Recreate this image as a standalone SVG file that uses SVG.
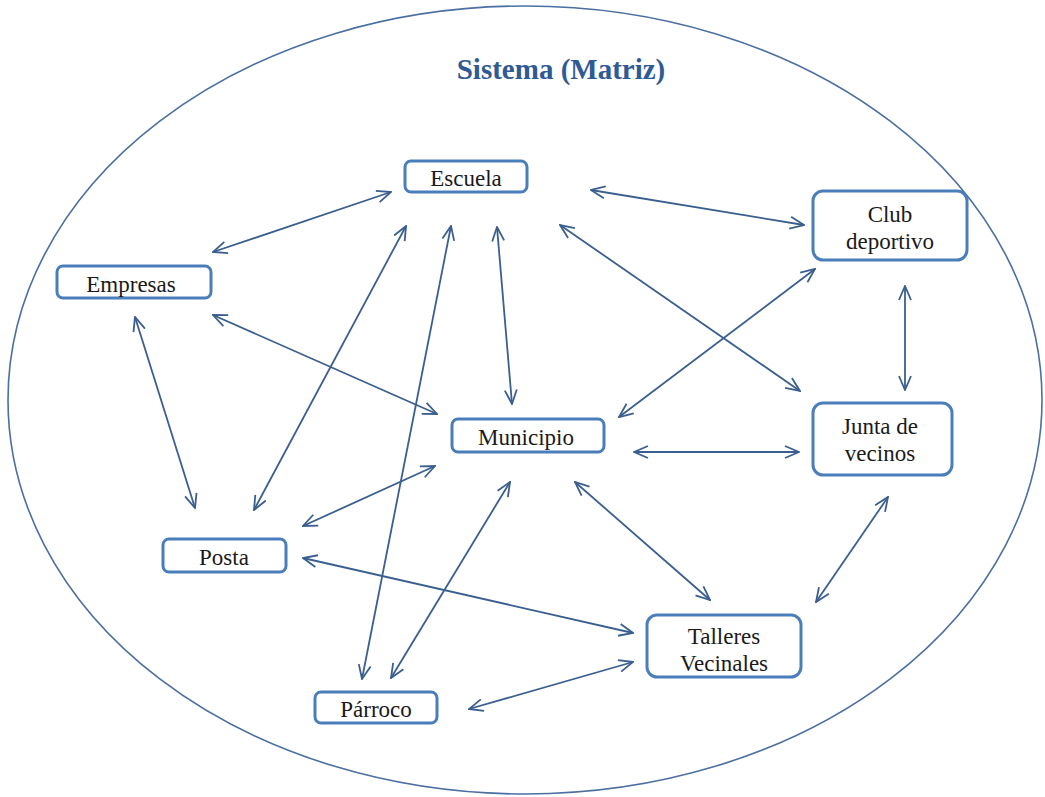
<svg xmlns="http://www.w3.org/2000/svg" width="1045" height="797" viewBox="0 0 1045 797">
  <style>
    .node rect { fill: #ffffff; stroke: #4a7ebb; stroke-width: 3; }
    .node text { font-family: 'Liberation Serif', 'Times New Roman', serif; font-size: 23px; fill: #1a1a1a; text-anchor: middle; }
    .title { font-family: 'Liberation Serif', 'Times New Roman', serif; font-size: 29px; font-weight: bold; fill: #2f5a93; text-anchor: middle; }
    .conn line { stroke: #3a5f8f; stroke-width: 1.8; marker-start: url(#arr); marker-end: url(#arr); }
  </style>
  <defs>
    <marker id="arr" viewBox="0 0 16 14" markerWidth="16" markerHeight="14" refX="15" refY="7" orient="auto-start-reverse" markerUnits="userSpaceOnUse">
      <path d="M1,1 L15,7 L1,13" fill="none" stroke="#3a5f8f" stroke-width="1.8"/>
    </marker>
  </defs>
  <rect width="1045" height="797" fill="#ffffff"/>

  <!-- system boundary -->
  <ellipse cx="525" cy="400" rx="517" ry="394" fill="none" stroke="#4a6fa0" stroke-width="1.6"/>
  <text class="title" x="561" y="79">Sistema (Matriz)</text>

  <!-- connectors: every relation is two-way -->
  <g class="conn">
    <line x1="391" y1="192" x2="213" y2="252"/>
    <line x1="591" y1="190" x2="804" y2="225"/>
    <line x1="213" y1="315" x2="437" y2="414"/>
    <line x1="497" y1="227" x2="512" y2="404"/>
    <line x1="560" y1="225" x2="800" y2="391"/>
    <line x1="815" y1="269" x2="619" y2="417"/>
    <line x1="905" y1="286" x2="905" y2="390"/>
    <line x1="135" y1="317" x2="195" y2="508"/>
    <line x1="406" y1="226" x2="254" y2="510"/>
    <line x1="451" y1="226" x2="362" y2="679"/>
    <line x1="435" y1="466" x2="303" y2="526"/>
    <line x1="634" y1="452" x2="799" y2="452"/>
    <line x1="510" y1="482" x2="391" y2="678"/>
    <line x1="575" y1="482" x2="710" y2="600"/>
    <line x1="888" y1="497" x2="816" y2="602"/>
    <line x1="303" y1="558" x2="633" y2="633"/>
    <line x1="469" y1="709" x2="633" y2="662"/>
  </g>

  <!-- nodes -->
  <g id="escuela" class="node">
    <rect x="405" y="161" width="122" height="31" rx="6"/>
    <text x="466" y="186">Escuela</text>
  </g>
  <g id="empresas" class="node">
    <rect x="57" y="266" width="154" height="32" rx="6"/>
    <text x="131" y="292">Empresas</text>
  </g>
  <g id="club-deportivo" class="node">
    <rect x="813" y="191" width="154" height="69" rx="10"/>
    <text x="890" y="222">Club</text>
    <text x="890" y="249">deportivo</text>
  </g>
  <g id="municipio" class="node">
    <rect x="452" y="419" width="152" height="33" rx="6"/>
    <text x="526" y="445">Municipio</text>
  </g>
  <g id="junta-de-vecinos" class="node">
    <rect x="813" y="403" width="139" height="72" rx="10"/>
    <text x="880" y="434">Junta de</text>
    <text x="880" y="461">vecinos</text>
  </g>
  <g id="posta" class="node">
    <rect x="163" y="539" width="123" height="33" rx="6"/>
    <text x="224" y="565">Posta</text>
  </g>
  <g id="talleres-vecinales" class="node">
    <rect x="647" y="615" width="154" height="62" rx="10"/>
    <text x="724" y="644">Talleres</text>
    <text x="724" y="671">Vecinales</text>
  </g>
  <g id="parroco" class="node">
    <rect x="315" y="692" width="122" height="31" rx="6"/>
    <text x="376" y="717">Párroco</text>
  </g>
</svg>
